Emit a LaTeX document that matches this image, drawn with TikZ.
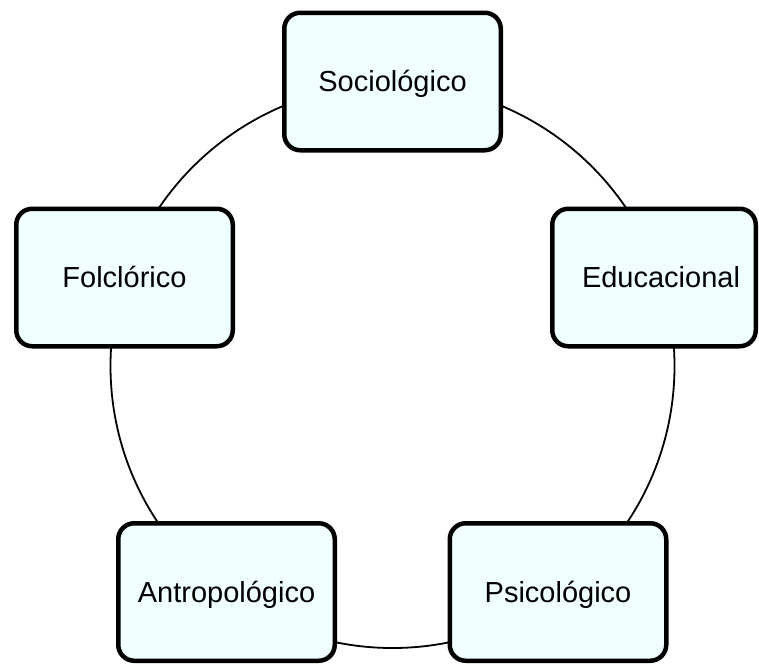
\documentclass[tikz,border=0pt]{standalone}
\usepackage{fontspec}
\setmainfont{Liberation Sans}
\definecolor{boxfill}{RGB}{240,255,255}
\begin{document}
\begin{tikzpicture}[x=1pt,y=-1pt,
  topicbox/.style={draw=black, line width=4.5pt, rounded corners=16pt, fill=boxfill,
    minimum width=216.5pt, minimum height=137.5pt, inner sep=0pt,
    text height=20.8pt, text depth=0pt,
    font=\fontsize{29}{34}\selectfont},
  ring/.style={draw=black, line width=1.8pt}]
\useasboundingbox (0,0) rectangle (759,664);
\coordinate (c) at (392.5,366);
\draw[ring] (c) circle[radius=282pt];
\node[topicbox] (soc) at (392.5,81.5) {Sociológico};
\node[topicbox] (fol) at (124.5,277.5) {Folclórico};
\node[topicbox, minimum width=203.5pt] (edu) at (654,277.5) {\hspace*{14pt}Educacional};
\node[topicbox] (ant) at (226.5,592) {Antropológico};
\node[topicbox] (psi) at (558,592) {Psicológico};
\end{tikzpicture}
\end{document}
